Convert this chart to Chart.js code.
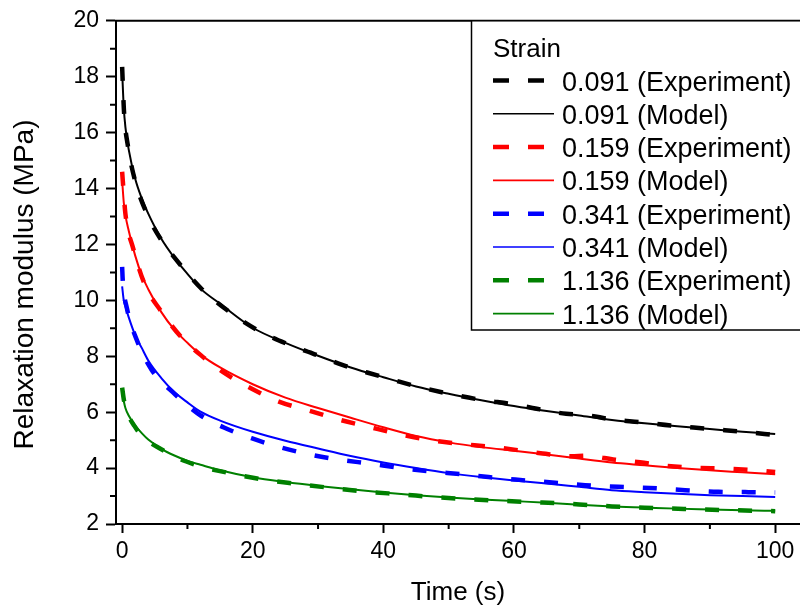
<!DOCTYPE html>
<html>
<head>
<meta charset="utf-8">
<script src="https://cdn.jsdelivr.net/npm/chart.js@4.4.1/dist/chart.umd.min.js"></script>
<style>
  html, body { margin: 0; padding: 0; background: #fff; }
</style>
</head>
<body>
<canvas id="myChart" width="800" height="613"></canvas>
<script>
// strain levels and colours
const strainLabels = ['0.091', '0.159', '0.341', '1.136'];
const seriesColors = ['#000000', '#ff0000', '#0000ff', '#008000'];

// model curves
const modelTime = [0, 0.25, 0.5, 1, 2, 3, 4, 6, 8, 10, 12, 15, 20, 25, 30, 35, 40, 45, 50, 55, 60, 65, 70, 75, 80, 85, 90, 95, 100];
const model091 = [18.2, 16.9, 16.2, 15.4, 14.35, 13.65, 13.1, 12.2, 11.52, 10.95, 10.42, 9.88, 9.02, 8.48, 8.02, 7.6, 7.25, 6.92, 6.66, 6.43, 6.22, 6.04, 5.88, 5.72, 5.6, 5.5, 5.4, 5.3, 5.22];
const model159 = [14.3, 13.5, 13.05, 12.5, 11.6, 10.9, 10.4, 9.58, 8.95, 8.48, 8.06, 7.6, 7.0, 6.52, 6.15, 5.8, 5.46, 5.15, 4.92, 4.75, 4.62, 4.49, 4.34, 4.2, 4.1, 4.0, 3.92, 3.85, 3.78];
const model341 = [10.5, 10.0, 9.78, 9.4, 8.75, 8.3, 7.85, 7.22, 6.72, 6.35, 6.02, 5.7, 5.3, 4.98, 4.7, 4.43, 4.2, 4.0, 3.82, 3.68, 3.56, 3.45, 3.33, 3.21, 3.14, 3.08, 3.03, 3.0, 2.97];
const model1136 = [6.75, 6.4, 6.15, 5.88, 5.52, 5.25, 5.02, 4.69, 4.45, 4.26, 4.12, 3.92, 3.67, 3.5, 3.36, 3.24, 3.13, 3.03, 2.95, 2.88, 2.82, 2.76, 2.69, 2.63, 2.59, 2.55, 2.52, 2.49, 2.47];

// experiment curves
const expTime091 = [0, 0.3, 0.9, 1.9, 3.6, 5.8, 8.3, 12, 17, 21, 25.4, 29.5, 33.6, 37.5, 42, 45, 50, 55, 60, 64, 68, 71, 75, 79.5, 84, 87.5, 91, 95, 100];
const exp091 = [18.35, 16.7, 15.5, 14.35, 13.2, 12.23, 11.45, 10.45, 9.49, 8.9, 8.43, 8.07, 7.7, 7.42, 7.12, 6.93, 6.66, 6.44, 6.28, 6.1, 5.94, 5.9, 5.74, 5.64, 5.52, 5.45, 5.38, 5.3, 5.18];
const expTime159 = [0, 0.5, 1.7, 3.5, 6, 9, 12, 16, 20, 24, 28.7, 33.3, 37.7, 42.3, 46.9, 51.7, 56.1, 60, 64.4, 68.8, 71, 75.5, 79.3, 83, 87.5, 92.6, 97.2, 100];
const exp159 = [14.6, 13.1, 11.85, 10.55, 9.6, 8.7, 8.05, 7.35, 6.82, 6.38, 6.05, 5.73, 5.48, 5.22, 5.01, 4.87, 4.77, 4.66, 4.52, 4.42, 4.44, 4.3, 4.21, 4.09, 4.01, 3.98, 3.92, 3.86];
const expTime341 = [0, 0.1, 0.75, 2.3, 4.5, 8.1, 11.6, 15.5, 19.8, 24.1, 28.7, 33.3, 37.9, 42.5, 47.1, 52, 56.1, 60.2, 65, 70.9, 76, 80.8, 86.2, 91.3, 95.9, 100];
const exp341 = [11.2, 10.7, 9.7, 8.55, 7.52, 6.64, 5.95, 5.46, 5.07, 4.75, 4.49, 4.3, 4.16, 4.01, 3.88, 3.78, 3.68, 3.59, 3.5, 3.39, 3.33, 3.29, 3.21, 3.15, 3.14, 3.13];
const expTime1136 = [0, 0.3, 1.9, 6.3, 10.9, 16, 21.3, 26.5, 32, 37.7, 42.8, 47.9, 53.5, 58.9, 64.3, 70, 75, 80, 86, 92, 100];
const exp1136 = [6.88, 6.4, 5.5, 4.63, 4.14, 3.84, 3.6, 3.44, 3.29, 3.15, 3.06, 2.96, 2.88, 2.82, 2.77, 2.7, 2.63, 2.58, 2.54, 2.5, 2.46];

// axis ticks
const xTickValues = [0, 20, 40, 60, 80, 100];
const xMinorTicks = [10, 30, 50, 70, 90];
const yTickValues = [2, 4, 6, 8, 10, 12, 14, 16, 18, 20];
const yMinorTicks = [3, 5, 7, 9, 11, 13, 15, 17, 19];

const expTimes = [expTime091, expTime159, expTime341, expTime1136];
const expValues = [exp091, exp159, exp341, exp1136];
const modelValues = [model091, model159, model341, model1136];

function toPoints(xs, ys) {
    return xs.map((x, i) => ({ x: x, y: ys[i] }));
}

let datasets = [];
for (let i = 0; i < strainLabels.length; i++) {
    datasets.push({
        label: strainLabels[i] + ' (Experiment)',
        data: toPoints(expTimes[i], expValues[i]),
        borderColor: seriesColors[i],
        borderWidth: 4.5,
        borderDash: [14, 19],
        pointRadius: 0,
        cubicInterpolationMode: 'monotone',
        fill: false
    });
    datasets.push({
        label: strainLabels[i] + ' (Model)',
        data: toPoints(modelTime, modelValues[i]),
        borderColor: seriesColors[i],
        borderWidth: 2,
        pointRadius: 0,
        cubicInterpolationMode: 'monotone',
        fill: false
    });
}

const FONT = "'Liberation Sans', Arial, sans-serif";

// top frame, minor ticks, y title and the boxed legend
const extras = {
    id: 'extras',
    afterDraw(chart) {
        const ctx = chart.ctx;
        const area = chart.chartArea;
        const xs = chart.scales.x, ys = chart.scales.y;
        ctx.save();
        ctx.strokeStyle = '#000';
        ctx.lineWidth = 2;
        ctx.beginPath();
        ctx.moveTo(area.left - 1, area.top);
        ctx.lineTo(area.right, area.top);
        xMinorTicks.forEach(v => {
            const px = xs.getPixelForValue(v);
            ctx.moveTo(px, area.bottom);
            ctx.lineTo(px, area.bottom + 5);
        });
        yMinorTicks.forEach(v => {
            const py = ys.getPixelForValue(v);
            ctx.moveTo(area.left, py);
            ctx.lineTo(area.left - 6, py);
        });
        ctx.stroke();

        // y axis title
        ctx.save();
        ctx.translate(33, 284.5);
        ctx.rotate(-Math.PI / 2);
        ctx.fillStyle = '#000';
        ctx.font = '28px ' + FONT;
        ctx.textAlign = 'center';
        ctx.textBaseline = 'alphabetic';
        ctx.fillText('Relaxation modulus (MPa)', 0, 0);
        ctx.restore();

        // legend
        const boxL = 471.5, boxT = area.top, boxR = 802, boxB = 330;
        ctx.fillStyle = '#fff';
        ctx.fillRect(boxL, boxT, boxR - boxL, boxB - boxT);
        ctx.lineWidth = 1.5;
        ctx.strokeRect(boxL, boxT, boxR - boxL, boxB - boxT);
        ctx.fillStyle = '#000';
        ctx.font = '26px ' + FONT;
        ctx.textAlign = 'left';
        ctx.textBaseline = 'alphabetic';
        ctx.fillText('Strain', 493, 57);
        ctx.font = '27px ' + FONT;
        chart.data.datasets.forEach((ds, i) => {
            const base = 90.5 + i * 33.3;
            ctx.beginPath();
            ctx.strokeStyle = ds.borderColor;
            ctx.lineWidth = ds.borderDash ? ds.borderWidth : 1.6;
            ctx.setLineDash(ds.borderDash ? [16, 19] : []);
            ctx.moveTo(493, base - 10);
            ctx.lineTo(554, base - 10);
            ctx.stroke();
            ctx.setLineDash([]);
            ctx.fillStyle = '#000';
            ctx.fillText(ds.label, 562, base);
        });
        ctx.restore();
    }
};

var ctx = document.getElementById('myChart');
var myChart = new Chart(ctx, {
    type: 'line',
    data: { datasets: datasets },
    options: {
        responsive: false,
        animation: false,
        layout: { padding: { top: 17, right: 0, left: 0, bottom: 0 } },
        plugins: {
            legend: { display: false },
            tooltip: { enabled: false }
        },
        scales: {
            x: {
                type: 'linear',
                min: -0.94,
                max: 103.8,
                afterFit: (s) => { s.height = 89; },
                afterBuildTicks: (s) => { s.ticks = xTickValues.map(v => ({ value: v })); },
                grid: { drawOnChartArea: false, drawTicks: true, tickLength: 9, tickWidth: 2, tickColor: '#000' },
                border: { display: true, color: '#000', width: 2 },
                ticks: {
                    color: '#000',
                    padding: 5,
                    maxRotation: 0,
                    font: { family: "'Liberation Sans Narrow', 'Liberation Sans', Arial, sans-serif", size: 23 }
                },
                title: {
                    display: true,
                    text: 'Time (s)',
                    color: '#000',
                    padding: { top: 0, bottom: 5 },
                    font: { family: FONT, size: 26 }
                }
            },
            y: {
                type: 'linear',
                min: 2,
                max: 20,
                afterFit: (s) => { s.width = 116; },
                afterBuildTicks: (s) => { s.ticks = yTickValues.map(v => ({ value: v })); },
                grid: { drawOnChartArea: false, drawTicks: true, tickLength: 10, tickWidth: 2, tickColor: '#000' },
                border: { display: true, color: '#000', width: 2 },
                ticks: {
                    color: '#000',
                    padding: 7,
                    font: { family: FONT, size: 23 }
                }
            }
        }
    },
    plugins: [extras]
});
</script>
</body>
</html>
